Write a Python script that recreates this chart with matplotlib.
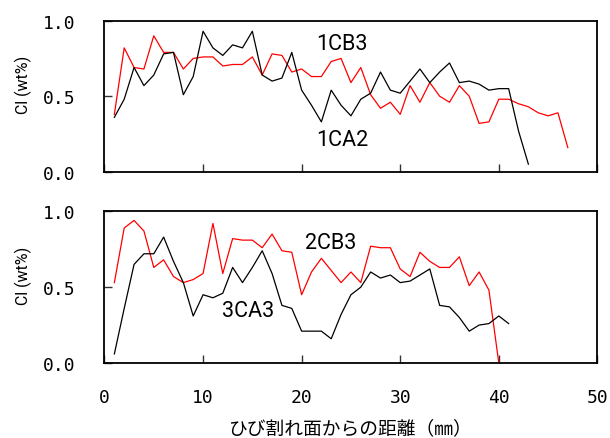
import matplotlib
matplotlib.use("Agg")
import matplotlib.pyplot as plt
import numpy as np

# ---- data ----
x_1CA2 = list(range(1, 44))
y_1CA2 = [0.36, 0.48, 0.69, 0.57, 0.64, 0.78, 0.79, 0.51, 0.63, 0.93,
          0.82, 0.77, 0.84, 0.82, 0.93, 0.64, 0.60, 0.62, 0.79, 0.54,
          0.44, 0.33, 0.54, 0.44, 0.37, 0.48, 0.52, 0.66, 0.54, 0.52,
          0.60, 0.68, 0.59, 0.66, 0.72, 0.59, 0.60, 0.58, 0.54, 0.55,
          0.55, 0.27, 0.05]

x_1CB3 = list(range(1, 48))
y_1CB3 = [0.38, 0.82, 0.69, 0.68, 0.90, 0.79, 0.79, 0.68, 0.75, 0.76,
          0.76, 0.70, 0.71, 0.71, 0.76, 0.64, 0.78, 0.77, 0.66, 0.68,
          0.63, 0.63, 0.73, 0.75, 0.59, 0.69, 0.51, 0.42, 0.46, 0.38,
          0.57, 0.46, 0.59, 0.50, 0.46, 0.57, 0.50, 0.32, 0.33, 0.48,
          0.48, 0.45, 0.43, 0.39, 0.37, 0.39, 0.16]

x_2CB3 = list(range(1, 41))
y_2CB3 = [0.53, 0.89, 0.94, 0.87, 0.63, 0.68, 0.57, 0.53, 0.55, 0.59,
          0.92, 0.59, 0.82, 0.81, 0.81, 0.76, 0.85, 0.74, 0.73, 0.45,
          0.60, 0.69, 0.61, 0.53, 0.60, 0.53, 0.77, 0.76, 0.76, 0.62,
          0.57, 0.73, 0.67, 0.63, 0.63, 0.70, 0.51, 0.60, 0.48, 0.00]

x_3CA3 = list(range(1, 42))
y_3CA3 = [0.06, 0.36, 0.65, 0.72, 0.72, 0.83, 0.67, 0.53, 0.31, 0.45,
          0.43, 0.46, 0.63, 0.53, 0.63, 0.74, 0.59, 0.38, 0.36, 0.21,
          0.21, 0.21, 0.16, 0.32, 0.45, 0.50, 0.60, 0.56, 0.58, 0.53,
          0.54, 0.58, 0.62, 0.38, 0.37, 0.30, 0.21, 0.25, 0.26, 0.31,
          0.26]

x_ticks = [0, 10, 20, 30, 40, 50]
y_ticks = [0.0, 0.5, 1.0]
y_ticklabels = ["0.0", "0.5", "1.0"]
xlabel = "ひび割れ面からの距離（㎜）"
ylabel = "Cl (wt%)"

LAB = ["Roboto", "DejaVu Sans"]
MONO = ["DejaVu Sans Mono", "DejaVu Sans"]
CJK = ["Noto Sans CJK JP", "DejaVu Sans"]

fig = plt.figure(figsize=(6.10, 4.39), dpi=100)
ax1 = fig.add_axes([0.1713, 0.6066, 0.808, 0.344])
ax2 = fig.add_axes([0.1713, 0.1708, 0.808, 0.3456])

ax1.plot(x_1CB3, y_1CB3, color="#ff0000", lw=0.9)
ax1.plot(x_1CA2, y_1CA2, color="#000000", lw=0.9)
ax2.plot(x_2CB3, y_2CB3, color="#ff0000", lw=0.9)
ax2.plot(x_3CA3, y_3CA3, color="#000000", lw=0.9)

ax1.text(24.1, 0.85, "1CB3", fontsize=15.5, family=LAB, ha="center", va="center")
ax1.text(24.1, 0.213, "1CA2", fontsize=15.5, family=LAB, ha="center", va="center")
ax2.text(22.9, 0.793, "2CB3", fontsize=15.5, family=LAB, ha="center", va="center")
ax2.text(14.6, 0.343, "3CA3", fontsize=15.5, family=LAB, ha="center", va="center")

for ax in (ax1, ax2):
    ax.set_xlim(0, 50)
    ax.set_ylim(0, 1)
    ax.set_xticks(x_ticks)
    ax.set_yticks(y_ticks)
    ax.set_yticklabels(y_ticklabels, family=MONO, fontsize=13)
    ax.tick_params(direction="in", length=6, width=1.0, color="#333333")
    ax.tick_params(axis="y", pad=21)
    ax.tick_params(axis="x", pad=18)
    for s in ax.spines.values():
        s.set_linewidth(1.3)
        s.set_color("#000000")
    ax.set_ylabel(ylabel, family=LAB, fontsize=11.5)
    ax.yaxis.set_label_coords(-0.165, 0.584)
    ax.yaxis.label.set_va("center")

ax1.tick_params(axis="x", labelbottom=False)
ax2.set_xticklabels([str(v) for v in x_ticks], family=MONO, fontsize=13)
ax2.set_xlabel(xlabel, family=CJK, fontsize=13.5)
ax2.xaxis.set_label_coords(0.5, -0.36)

fig.savefig("out.png", dpi=100)
